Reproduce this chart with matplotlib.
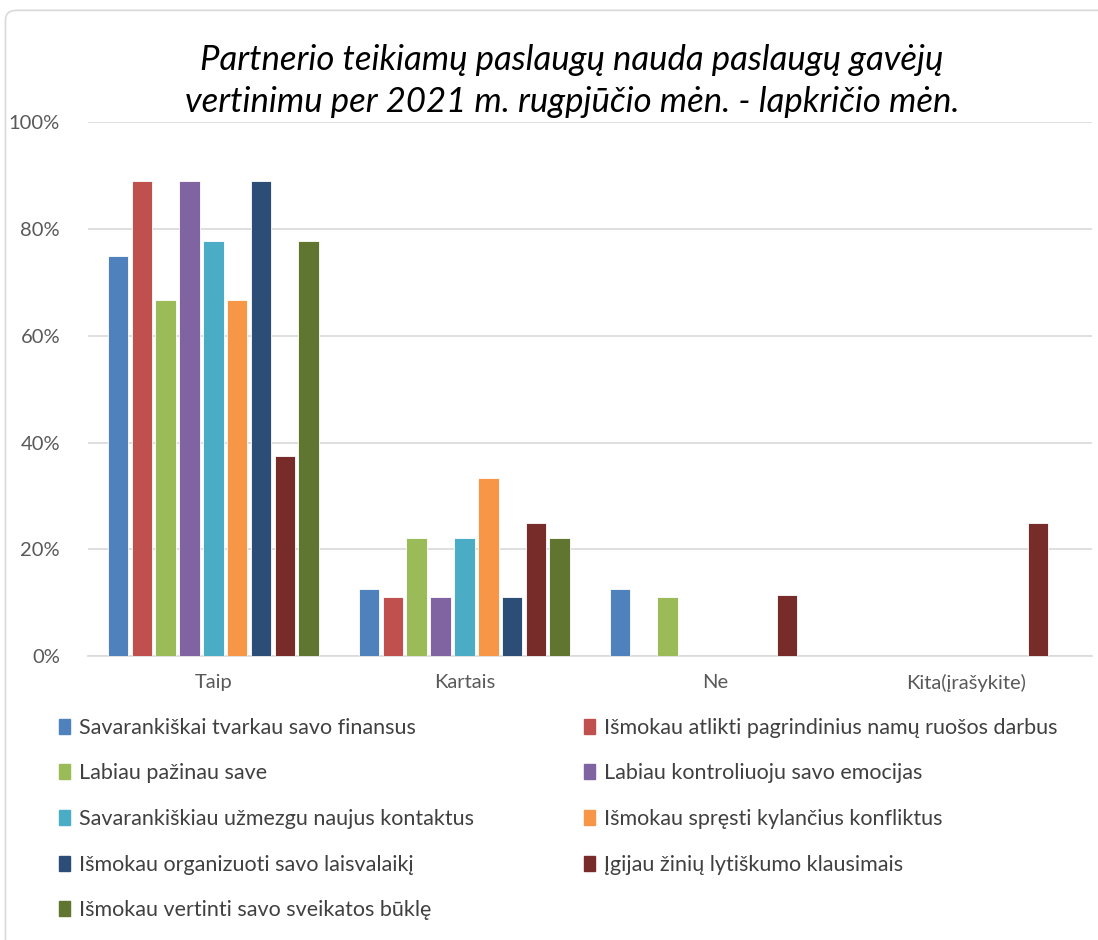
import matplotlib
matplotlib.use("Agg")
import matplotlib.pyplot as plt
from matplotlib.patches import Patch, FancyBboxPatch
import numpy as np

plt.rcParams['font.family'] = ['Lato', 'DejaVu Sans']

categories = ["Taip", "Kartais", "Ne", "Kita(įrašykite)"]

series_names = [
    "Savarankiškai tvarkau savo finansus",
    "Išmokau atlikti pagrindinius namų ruošos darbus",
    "Labiau pažinau save",
    "Labiau kontroliuoju savo emocijas",
    "Savarankiškiau užmezgu naujus kontaktus",
    "Išmokau spręsti kylančius konfliktus",
    "Išmokau organizuoti savo laisvalaikį",
    "Įgijau žinių lytiškumo klausimais",
    "Išmokau vertinti savo sveikatos būklę",
]

# percentages per series, in category order Taip, Kartais, Ne, Kita
finansai = [75.0, 12.5, 12.5, 0]
namu_darbai = [88.9, 11.1, 0, 0]
pazinau_save = [66.7, 22.2, 11.1, 0]
emocijos = [88.9, 11.1, 0, 0]
kontaktai = [77.8, 22.2, 0, 0]
konfliktai = [66.7, 33.3, 0, 0]
laisvalaikis = [88.9, 11.1, 0, 0]
lytiskumas = [37.5, 25.0, 11.5, 25.0]
sveikata = [77.8, 22.2, 0, 0]

values = [finansai, namu_darbai, pazinau_save, emocijos, kontaktai,
          konfliktai, laisvalaikis, lytiskumas, sveikata]

colors = ["#4f81bd", "#c0504d", "#9bbb59", "#8064a2", "#4bacc6",
          "#f79646", "#2c4d75", "#772c2a", "#5f7530"]

fig = plt.figure(figsize=(10.98, 9.4), dpi=100)

# chart border
fig.patches.append(FancyBboxPatch((0.005, -0.02), 1.2, 1.009,
                                  boxstyle="round,pad=0,rounding_size=0.01",
                                  transform=fig.transFigure, fill=False,
                                  edgecolor="#d9d9d9", linewidth=1.2))

ax = fig.add_axes([0.080, 0.302, 0.9145, 0.568])

x = np.arange(len(categories))
slot = 0.095
width = 0.082
n = len(values)
for i in range(n):
    offset = (i - (n - 1) / 2) * slot
    ax.bar(x + offset, values[i], width=width, color=colors[i],
           edgecolor="white", linewidth=0.6, zorder=3)

ax.set_xlim(-0.5, 3.5)
ax.set_ylim(0, 100)
ax.set_yticks([0, 20, 40, 60, 80, 100])
ax.set_yticklabels(["0%", "20%", "40%", "60%", "80%", "100%"])
ax.set_xticks(x)
ax.set_xticklabels(categories)
ax.tick_params(axis="both", length=0, labelsize=14.5, colors="#595959")
ax.tick_params(axis="y", pad=20)
ax.tick_params(axis="x", pad=13)
ax.grid(axis="y", color="#d9d9d9", linewidth=1.2, zorder=0)
for s in ["top", "right", "left"]:
    ax.spines[s].set_visible(False)
ax.spines["bottom"].set_color("#d9d9d9")
ax.spines["bottom"].set_linewidth(1.2)

fig.text(0.521, 0.914,
         "Partnerio teikiamų paslaugų nauda paslaugų gavėjų\nvertinimu per 2021 m. rugpjūčio mėn. - lapkričio mėn.",
         ha="center", va="center", fontsize=25, style="italic",
         linespacing=1.4)

handles = [Patch(facecolor=c, edgecolor=c) for c in colors]
left_idx = [0, 2, 4, 6, 8]
right_idx = [1, 3, 5, 7]
leg_kw = dict(loc="upper left", frameon=False, fontsize=15.5, labelcolor="#404040",
              handlelength=0.5, handleheight=0.7, handletextpad=0.45,
              labelspacing=1.19)
leg1 = fig.legend([handles[i] for i in left_idx], [series_names[i] for i in left_idx],
                  bbox_to_anchor=(0.036, 0.257), **leg_kw)
leg2 = fig.legend([handles[i] for i in right_idx], [series_names[i] for i in right_idx],
                  bbox_to_anchor=(0.514, 0.257), **leg_kw)

fig.savefig("out.png", dpi=100)
